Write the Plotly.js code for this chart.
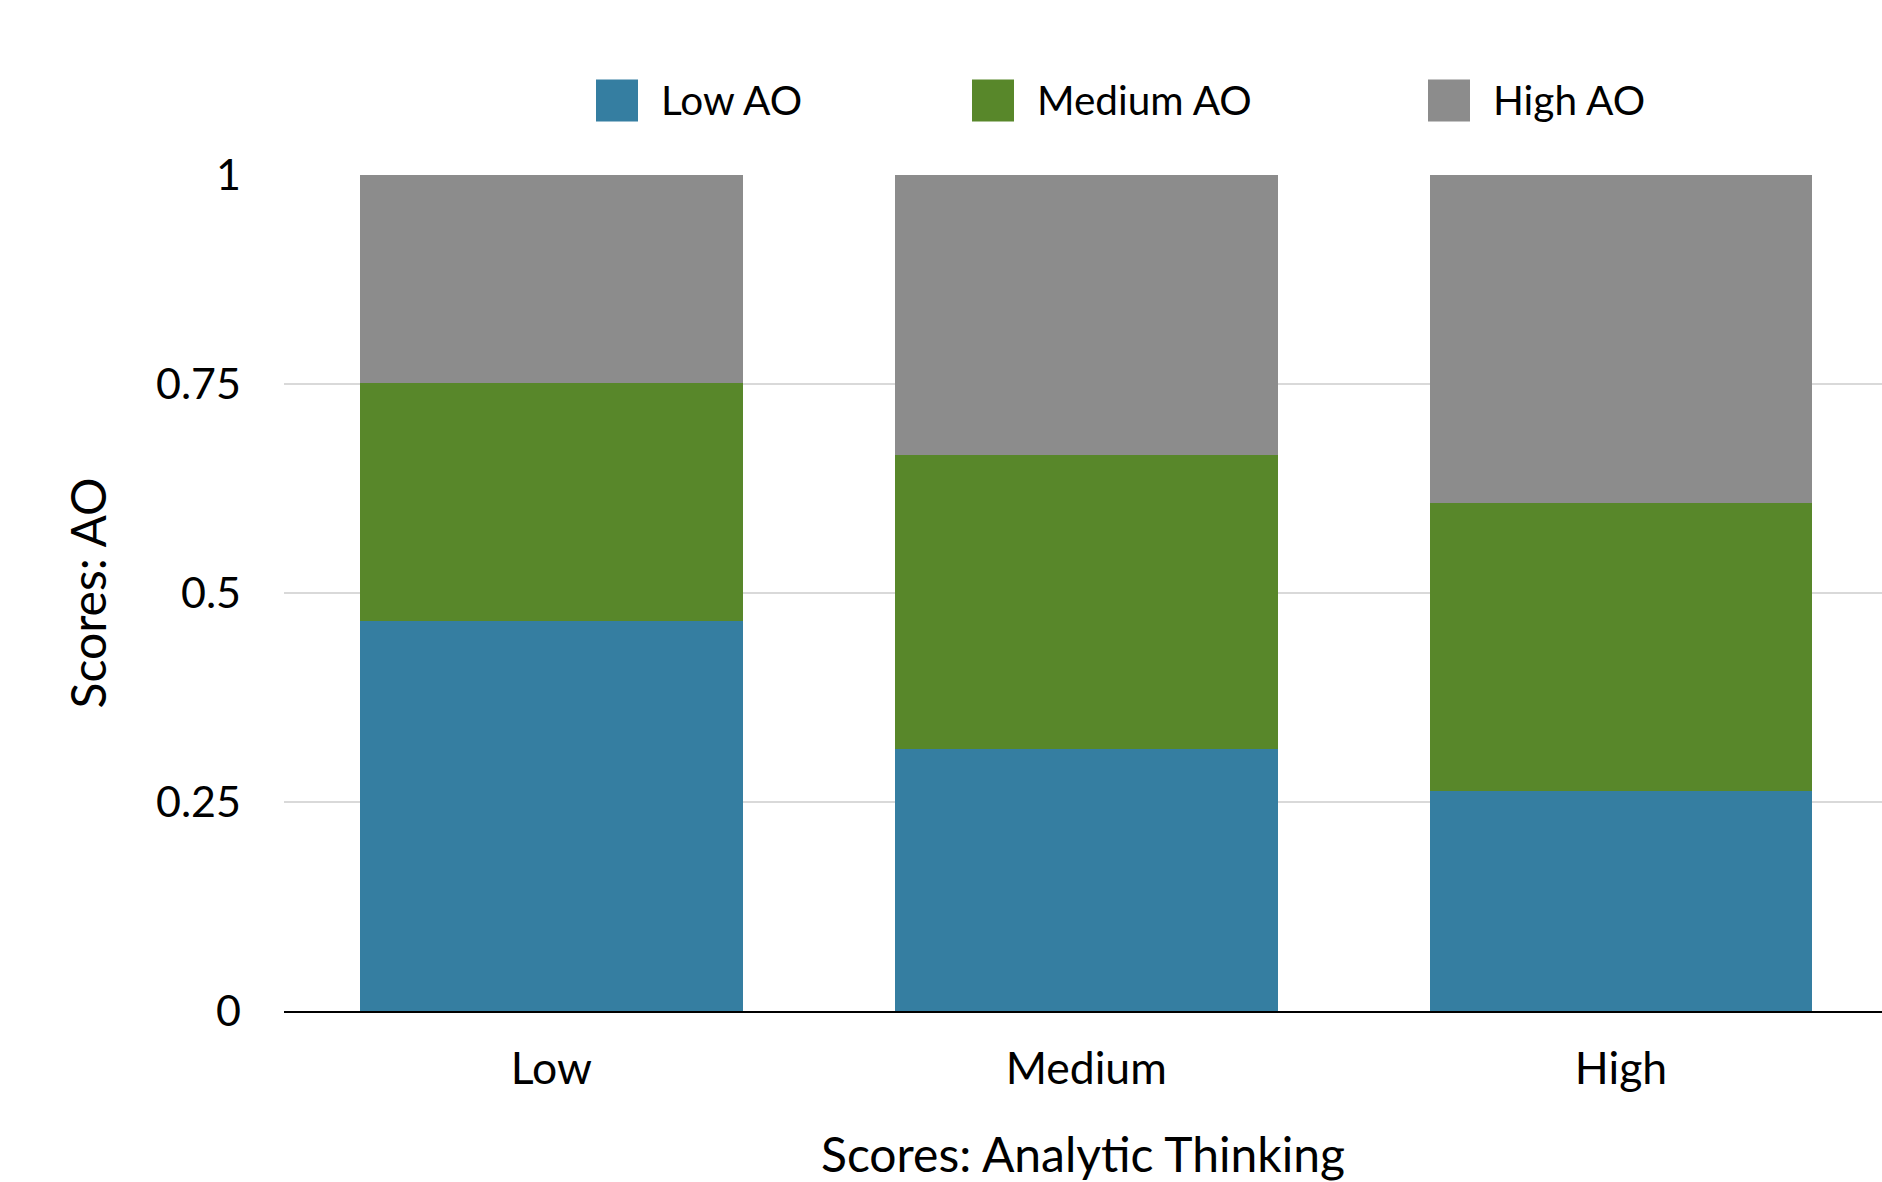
<!DOCTYPE html>
<html>
<head>
<meta charset="utf-8">
<script src="https://cdn.plot.ly/plotly-3.0.1.min.js"></script>
<style>html,body{margin:0;padding:0;background:#fff;}#chart{width:1882px;height:1182px;}</style>
</head>
<body>
<div id="chart"></div>
<script>
const categories = ["Low", "Medium", "High"];
const lowAO = [0.467, 0.314, 0.263];
const mediumAO = [0.284, 0.351, 0.345];
const highAO = [0.249, 0.335, 0.392];
const seriesNames = ["Low AO", "Medium AO", "High AO"];
const yTicks = [0, 0.25, 0.5, 0.75, 1];
const yTickText = ["0", "0.25", "0.5", "0.75", "1"];

const colors = ["#357EA1", "#58872A", "#8C8C8C"];
const FONT = "Lato, 'Open Sans', sans-serif";

const seriesValues = [lowAO, mediumAO, highAO];
const traces = seriesValues.map((vals, i) => ({
  type: "bar",
  name: seriesNames[i],
  x: categories,
  y: vals,
  marker: { color: colors[i], line: { width: 0 } },
  showlegend: false,
  hoverinfo: "x+y+name"
}));

// custom legend (large square swatches like the reference)
const W = 1882, H = 1182;
const L = 284, R = 0, T = 174.5, B = 170.5;
const pw = W - L - R, ph = H - T - B;
const px2x = p => (p - L) / pw;
const py2y = p => 1 - (p - T) / ph;
const legendItems = [
  { sw: 596, tx: 659 },
  { sw: 972, tx: 1035 },
  { sw: 1428, tx: 1491 }
];
const shapes = [];
const annotations = [];
legendItems.forEach((it, i) => {
  shapes.push({
    type: "rect", xref: "paper", yref: "paper",
    x0: px2x(it.sw), x1: px2x(it.sw + 42),
    y0: py2y(121), y1: py2y(79),
    fillcolor: colors[i], line: { width: 0 }
  });
  annotations.push({
    xref: "paper", yref: "paper",
    x: px2x(it.tx), y: py2y(99),
    xanchor: "left", yanchor: "middle",
    text: seriesNames[i], showarrow: false,
    font: { family: FONT, size: 40.5, color: "#000" }
  });
});

const layout = {
  width: W, height: H,
  margin: { l: L, r: R, t: T, b: B, pad: 0 },
  paper_bgcolor: "#fff", plot_bgcolor: "#fff",
  barmode: "stack",
  bargap: 0.284,
  showlegend: false,
  font: { family: FONT, size: 44, color: "#000" },
  xaxis: {
    type: "category",
    range: [-0.5, 2.488],
    showgrid: false,
    showline: true, linecolor: "#000", linewidth: 2,
    ticks: "", ticklabelstandoff: 18,
    tickfont: { family: FONT, size: 44.5, color: "#000" },
    title: { text: "Scores: Analytic Thinking", font: { family: FONT, size: 48, color: "#000" }, standoff: 48 }
  },
  yaxis: {
    range: [0, 1],
    tickvals: yTicks, ticktext: yTickText,
    showgrid: true, gridcolor: "#D9D9D9", gridwidth: 1.5,
    zeroline: false, showline: false,
    ticks: "", ticklabelstandoff: 42,
    tickfont: { family: FONT, size: 43, color: "#000" },
    title: { text: "Scores: AO", font: { family: FONT, size: 48, color: "#000" }, standoff: 34 }
  },
  shapes: shapes,
  annotations: annotations
};

Plotly.newPlot("chart", traces, layout, { displayModeBar: false, staticPlot: true });
</script>
</body>
</html>
